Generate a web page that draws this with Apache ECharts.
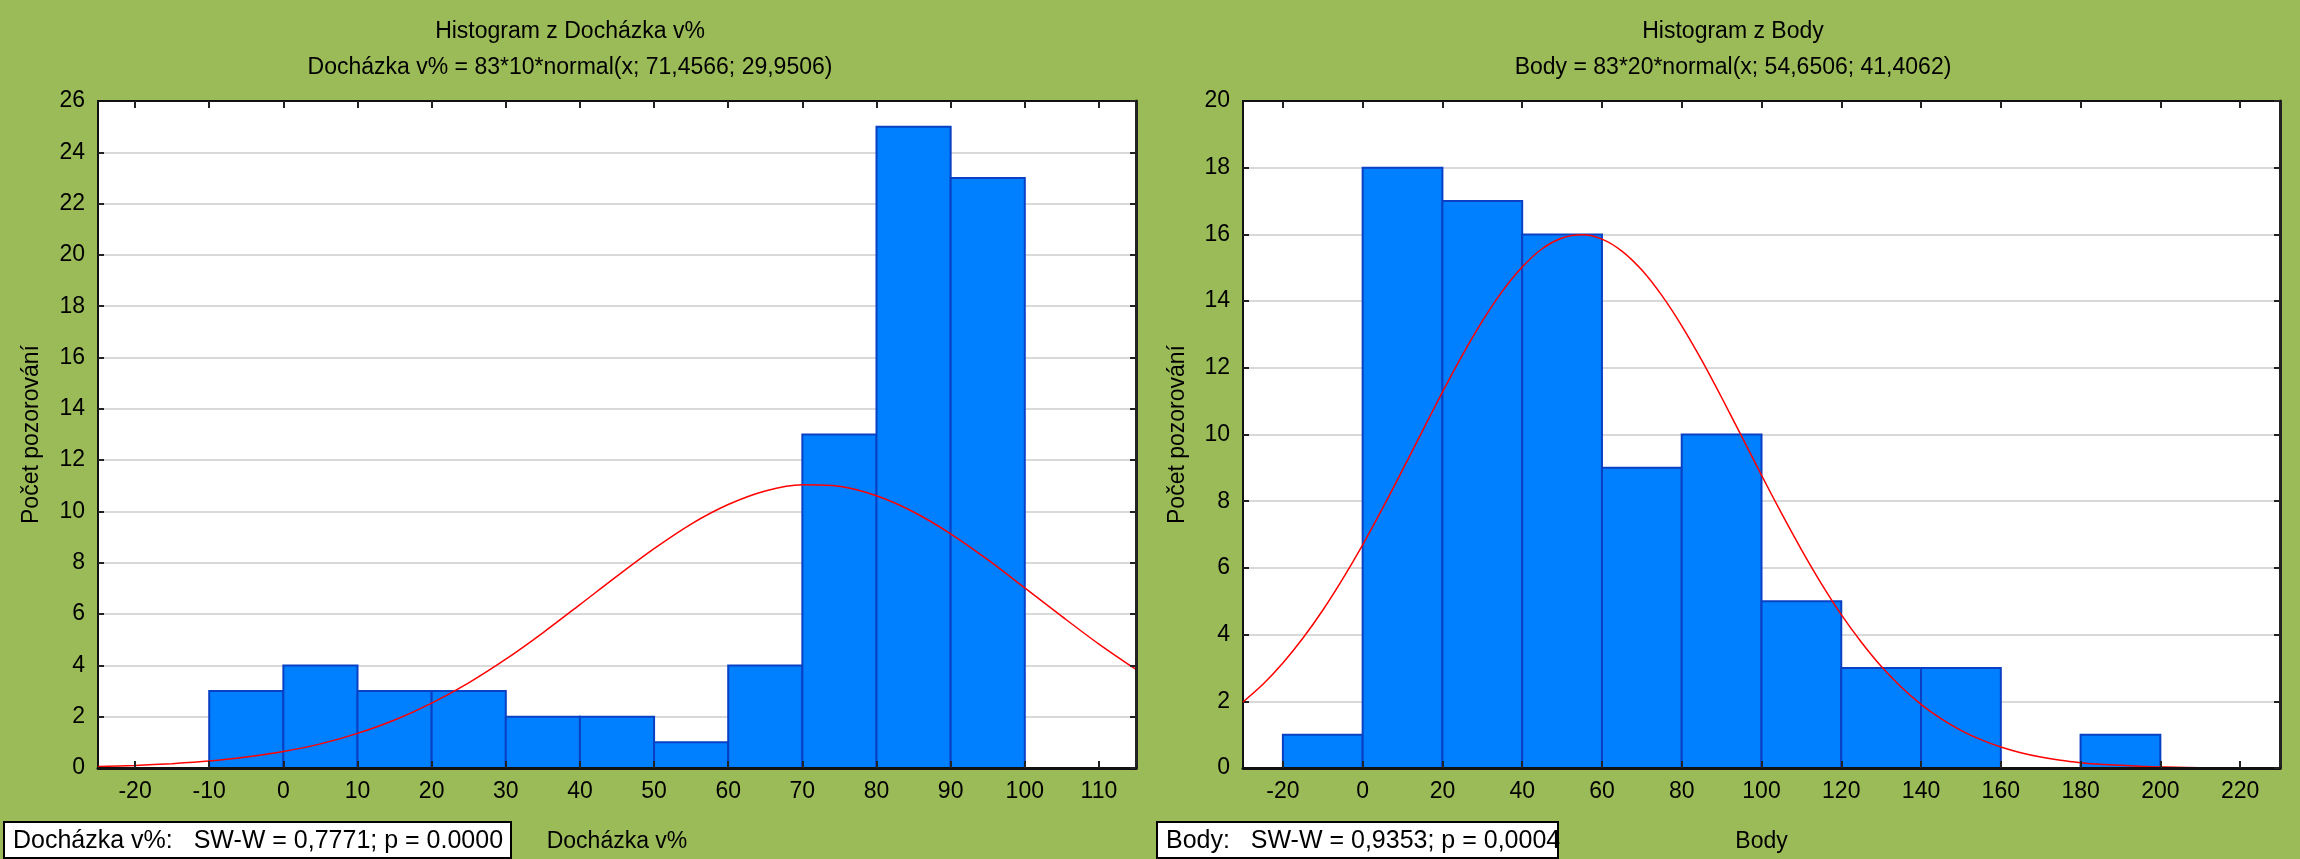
<!DOCTYPE html>
<html>
<head>
<meta charset="utf-8">
<script src="https://cdn.jsdelivr.net/npm/echarts@6/dist/echarts.min.js"></script>
<style>
html,body{margin:0;padding:0;background:#9bbb59;}
#chart{width:2300px;height:859px;}
</style>
</head>
<body>
<div id="chart"></div>
<script>
// ---- Data: Docházka v% ----
var attendanceBinStarts = [-10, 0, 10, 20, 30, 40, 50, 60, 70, 80, 90];
var attendanceBinWidth = 10;
var attendanceCounts = [3, 4, 3, 3, 2, 2, 1, 4, 13, 25, 23];
var attendanceTicks = [-20, -10, 0, 10, 20, 30, 40, 50, 60, 70, 80, 90, 100, 110];
var attendanceCurveX = [-25, -20, -15, -10, -5, 0, 5, 10, 15, 20, 25, 30, 35, 40, 45, 50, 55, 60, 65, 70, 75, 80, 85, 90, 95, 100, 105, 110, 115];
var attendanceCurveY = [0.06, 0.10, 0.17, 0.27, 0.43, 0.64, 0.94, 1.35, 1.87, 2.53, 3.32, 4.24, 5.27, 6.37, 7.48, 8.55, 9.51, 10.27, 10.80, 11.04, 10.98, 10.61, 9.98, 9.13, 8.12, 7.02, 5.91, 4.83, 3.84];

// ---- Data: Body ----
var pointsBinStarts = [-20, 0, 20, 40, 60, 80, 100, 120, 140, 160, 180];
var pointsBinWidth = 20;
var pointsCounts = [1, 18, 17, 16, 9, 10, 5, 3, 3, 0, 1];
var pointsTicks = [-20, 0, 20, 40, 60, 80, 100, 120, 140, 160, 180, 200, 220];
var pointsCurveX = [-30, -25, -20, -15, -10, -5, 0, 5, 10, 15, 20, 25, 30, 35, 40, 45, 50, 55, 60, 65, 70, 75, 80, 85, 90, 95, 100, 105, 110, 115, 120, 125, 130, 135, 140, 145, 150, 155, 160, 165, 170, 175, 180, 185, 190, 195, 200, 210, 220, 230];
var pointsCurveY = [1.98, 2.51, 3.15, 3.89, 4.73, 5.67, 6.69, 7.79, 8.94, 10.11, 11.27, 12.38, 13.40, 14.29, 15.02, 15.57, 15.89, 15.99, 15.86, 15.50, 14.93, 14.17, 13.26, 12.23, 11.11, 9.95, 8.78, 7.64, 6.55, 5.53, 4.60, 3.78, 3.05, 2.43, 1.91, 1.48, 1.13, 0.85, 0.63, 0.46, 0.33, 0.23, 0.16, 0.11, 0.08, 0.05, 0.03, 0.01, 0.01, 0.00];

var FONT = '"Liberation Sans", Arial, sans-serif';
var BLACK = '#000';

function binData(starts, width, counts) {
  var out = [];
  for (var i = 0; i < starts.length; i++) {
    if (counts[i] > 0) out.push([starts[i], starts[i] + width, counts[i]]);
  }
  return out;
}
function curveData(xs, ys) {
  var out = [];
  for (var i = 0; i < xs.length; i++) out.push([xs[i], ys[i]]);
  return out;
}
function renderBar(params, api) {
  var p0 = api.coord([api.value(0), api.value(2)]);
  var p1 = api.coord([api.value(1), 0]);
  return {
    type: 'rect',
    shape: { x: p0[0], y: p0[1], width: p1[0] - p0[0], height: p1[1] - p0[1] },
    style: { fill: '#0080ff', stroke: '#0a40c4', lineWidth: 2 }
  };
}

function xAxes(gi, min, max, ticks, name) {
  return [{
    gridIndex: gi, type: 'value', min: min, max: max, position: 'bottom', z: 10,
    name: name, nameLocation: 'middle', nameGap: 62,
    nameTextStyle: { fontFamily: FONT, fontSize: 23, color: BLACK },
    axisLine: { show: true, onZero: false, lineStyle: { color: '#111', width: 3 } },
    axisTick: { show: true, inside: true, length: 7, customValues: ticks, lineStyle: { color: '#222', width: 2 } },
    axisLabel: { show: true, customValues: ticks, margin: 12, fontFamily: FONT, fontSize: 23, color: BLACK },
    splitLine: { show: false }
  }, {
    gridIndex: gi, type: 'value', min: min, max: max, position: 'top', z: 10,
    axisLine: { show: true, onZero: false, lineStyle: { color: '#111', width: 2 } },
    axisTick: { show: true, inside: true, length: 7, customValues: ticks, lineStyle: { color: '#222', width: 2 } },
    axisLabel: { show: false },
    splitLine: { show: false }
  }];
}
function yAxes(gi, max, nameGap) {
  return [{
    gridIndex: gi, type: 'value', min: 0, max: max, interval: 2, position: 'left',
    name: 'Počet pozorování', nameLocation: 'middle', nameGap: nameGap,
    nameTextStyle: { fontFamily: FONT, fontSize: 23, color: BLACK },
    axisLine: { show: true, onZero: false, lineStyle: { color: '#111', width: 2 } },
    axisTick: { show: true, inside: true, length: 6, lineStyle: { color: '#222', width: 2 } },
    axisLabel: { show: true, margin: 13, fontFamily: FONT, fontSize: 23, color: BLACK },
    splitLine: { show: true, lineStyle: { color: '#d9d9d9', width: 2 } }
  }, {
    gridIndex: gi, type: 'value', min: 0, max: max, interval: 2, position: 'right', z: 10,
    axisLine: { show: true, onZero: false, lineStyle: { color: '#222', width: 3 } },
    axisTick: { show: true, inside: true, length: 6, lineStyle: { color: '#222', width: 2 } },
    axisLabel: { show: false },
    splitLine: { show: false }
  }];
}

var chart = echarts.init(document.getElementById('chart'), null, { renderer: 'canvas' });
var option = {
  backgroundColor: '#9bbb59',
  animation: false,
  textStyle: { fontFamily: FONT },
  grid: [
    { left: 98, top: 101, width: 1038, height: 667, show: true, backgroundColor: '#fff', borderWidth: 0 },
    { left: 1243, top: 101, width: 1037, height: 667, show: true, backgroundColor: '#fff', borderWidth: 0 }
  ],
  xAxis: xAxes(0, -25, 115, attendanceTicks, 'Docházka v%').concat(xAxes(1, -30, 230, pointsTicks, 'Body')),
  yAxis: yAxes(0, 26, 55).concat(yAxes(1, 20, 54)),
  series: [
    { type: 'custom', xAxisIndex: 0, yAxisIndex: 0, renderItem: renderBar, encode: { x: [0, 1], y: 2 },
      data: binData(attendanceBinStarts, attendanceBinWidth, attendanceCounts), z: 2 },
    { type: 'line', xAxisIndex: 0, yAxisIndex: 0, smooth: 0.3, showSymbol: false, symbol: 'none', clip: true,
      lineStyle: { color: '#ff0000', width: 1.5 }, data: curveData(attendanceCurveX, attendanceCurveY), z: 3 },
    { type: 'custom', xAxisIndex: 2, yAxisIndex: 2, renderItem: renderBar, encode: { x: [0, 1], y: 2 },
      data: binData(pointsBinStarts, pointsBinWidth, pointsCounts), z: 2 },
    { type: 'line', xAxisIndex: 2, yAxisIndex: 2, smooth: 0.3, showSymbol: false, symbol: 'none', clip: true,
      lineStyle: { color: '#ff0000', width: 1.5 }, data: curveData(pointsCurveX, pointsCurveY), z: 3 }
  ],
  graphic: [
    { type: 'text', x: 570, y: 32, style: { text: 'Histogram z Docházka v%', font: '23px ' + FONT, fill: BLACK, align: 'center', verticalAlign: 'middle' } },
    { type: 'text', x: 570, y: 68, style: { text: 'Docházka v% = 83*10*normal(x; 71,4566; 29,9506)', font: '23px ' + FONT, fill: BLACK, align: 'center', verticalAlign: 'middle' } },
    { type: 'text', x: 1733, y: 32, style: { text: 'Histogram z Body', font: '23px ' + FONT, fill: BLACK, align: 'center', verticalAlign: 'middle' } },
    { type: 'text', x: 1733, y: 68, style: { text: 'Body = 83*20*normal(x; 54,6506; 41,4062)', font: '23px ' + FONT, fill: BLACK, align: 'center', verticalAlign: 'middle' } },
    { type: 'rect', shape: { x: 4, y: 822, width: 507, height: 36 }, style: { fill: '#fff', stroke: BLACK, lineWidth: 2 } },
    { type: 'text', x: 13, y: 841, style: { text: 'Docházka v%:   SW-W = 0,7771; p = 0.0000', font: '25px ' + FONT, fill: BLACK, align: 'left', verticalAlign: 'middle' } },
    { type: 'rect', shape: { x: 1157, y: 822, width: 401, height: 36 }, style: { fill: '#fff', stroke: BLACK, lineWidth: 2 } },
    { type: 'text', x: 1166, y: 841, style: { text: 'Body:   SW-W = 0,9353; p = 0,0004', font: '25px ' + FONT, fill: BLACK, align: 'left', verticalAlign: 'middle' } }
  ]
};
chart.setOption(option);
</script>
</body>
</html>
